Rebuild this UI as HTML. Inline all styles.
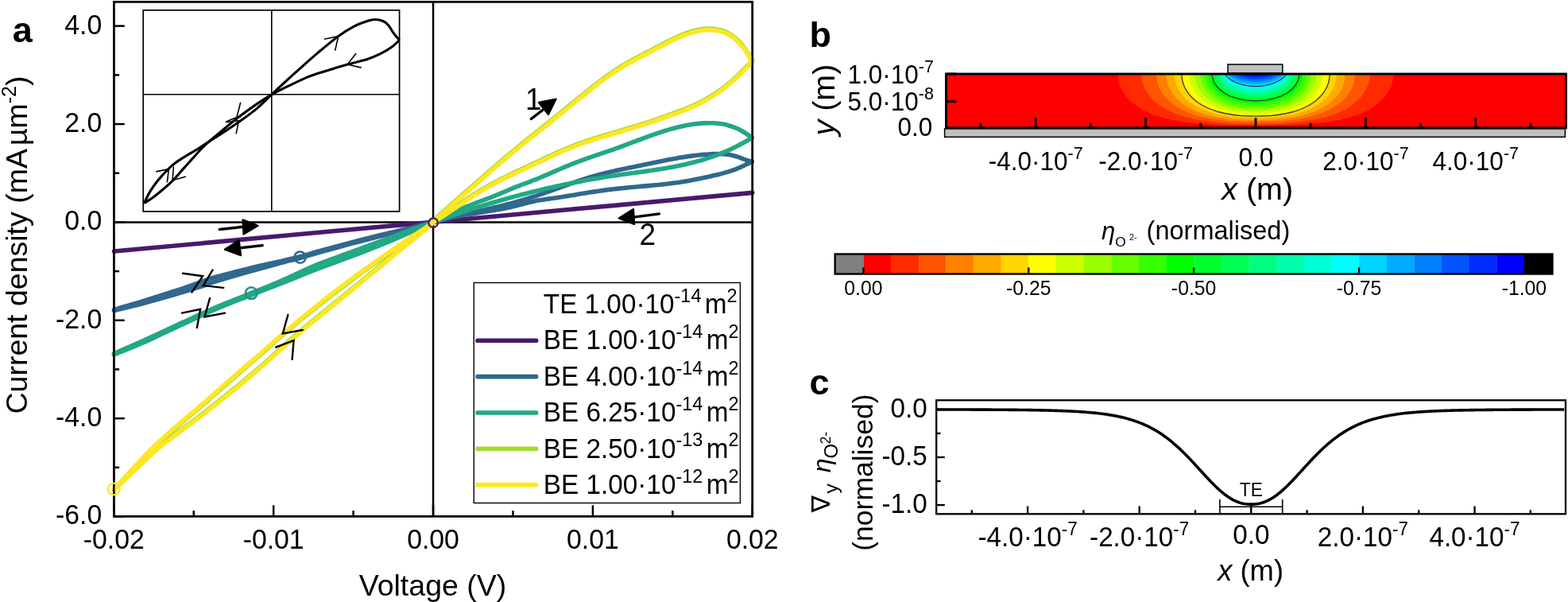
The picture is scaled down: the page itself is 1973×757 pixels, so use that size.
<!DOCTYPE html>
<html><head><meta charset="utf-8"><title>Figure</title>
<style>html,body{margin:0;padding:0;background:#fff;width:1973px;height:757px;overflow:hidden}svg{display:block}</style>
</head><body>
<svg width="1973" height="757" viewBox="0 0 1973 757" font-family="Liberation Sans, Arial, sans-serif">
<g fill="none" stroke="#000" stroke-width="2.5">
<path d="M143.3,2.2H946.8V649.3H143.3Z"/>
<path d="M545.05,2.2V649.3"/>
<path d="M143.3,279.4H946.8"/>
<path d="M143.3,649.48h13.5"/>
<path d="M143.3,587.8h6.8"/>
<path d="M143.3,526.12h13.5"/>
<path d="M143.3,464.44h6.8"/>
<path d="M143.3,402.76h13.5"/>
<path d="M143.3,341.08h6.8"/>
<path d="M143.3,279.4h13.5"/>
<path d="M143.3,217.72h6.8"/>
<path d="M143.3,156.04h13.5"/>
<path d="M143.3,94.36h6.8"/>
<path d="M143.3,32.68h13.5"/>
<path d="M143.3,649.3v-14"/>
<path d="M243.74,649.3v-7.2"/>
<path d="M344.17,649.3v-14"/>
<path d="M444.61,649.3v-7.2"/>
<path d="M545.05,649.3v-14"/>
<path d="M645.49,649.3v-7.2"/>
<path d="M745.92,649.3v-14"/>
<path d="M846.36,649.3v-7.2"/>
<path d="M946.8,649.3v-14"/>
</g>
<g transform="translate(128.2,42.68) scale(1,1.04) translate(-128.2,-42.68)"><text x="128.2" y="42.68" font-size="33.8" text-anchor="end">4.0</text></g>
<g transform="translate(128.2,166.04) scale(1,1.04) translate(-128.2,-166.04)"><text x="128.2" y="166.04" font-size="33.8" text-anchor="end">2.0</text></g>
<g transform="translate(128.2,289.4) scale(1,1.04) translate(-128.2,-289.4)"><text x="128.2" y="289.4" font-size="33.8" text-anchor="end">0.0</text></g>
<g transform="translate(128.2,412.76) scale(1,1.04) translate(-128.2,-412.76)"><text x="128.2" y="412.76" font-size="33.8" text-anchor="end">-2.0</text></g>
<g transform="translate(128.2,536.12) scale(1,1.04) translate(-128.2,-536.12)"><text x="128.2" y="536.12" font-size="33.8" text-anchor="end">-4.0</text></g>
<g transform="translate(128.2,659.48) scale(1,1.04) translate(-128.2,-659.48)"><text x="128.2" y="659.48" font-size="33.8" text-anchor="end">-6.0</text></g>
<g transform="translate(143.3,690.4) scale(1,1.04) translate(-143.3,-690.4)"><text x="143.3" y="690.4" font-size="33.8" text-anchor="middle">-0.02</text></g>
<g transform="translate(344.17,690.4) scale(1,1.04) translate(-344.17,-690.4)"><text x="344.17" y="690.4" font-size="33.8" text-anchor="middle">-0.01</text></g>
<g transform="translate(545.05,690.4) scale(1,1.04) translate(-545.05,-690.4)"><text x="545.05" y="690.4" font-size="33.8" text-anchor="middle">0.00</text></g>
<g transform="translate(745.92,690.4) scale(1,1.04) translate(-745.92,-690.4)"><text x="745.92" y="690.4" font-size="33.8" text-anchor="middle">0.01</text></g>
<g transform="translate(946.8,690.4) scale(1,1.04) translate(-946.8,-690.4)"><text x="946.8" y="690.4" font-size="33.8" text-anchor="middle">0.02</text></g>
<text x="0" y="0" font-size="37.5" text-anchor="middle" transform="translate(34,308) rotate(-90)">Current density (mA<tspan dx="4">µm</tspan><tspan font-size="25" dy="-14">-2</tspan><tspan dy="14">)</tspan></text>
<text x="544.5" y="749" font-size="37.5" text-anchor="middle">Voltage (V)</text>
<text x="15.7" y="53.1" font-size="45" font-weight="bold">a</text>
<g fill="none" stroke="#000">
<rect x="180.2" y="12.8" width="322.4" height="253.1" stroke-width="1.7"/>
<path d="M341.8,12.8V265.9M180.2,118.8H502.6" stroke-width="1.6"/>
<path d="M341.8,118.8 C345.33,115.52 356.72,104.85 363,99.1 C369.28,93.35 373.43,89.67 379.5,84.3 C385.57,78.93 391.68,73.37 399.4,66.9 C407.12,60.43 418.1,51.13 425.8,45.5 C433.5,39.87 439.55,36.27 445.6,33.1 C451.65,29.93 457.7,27.93 462.1,26.5 C466.5,25.07 468.7,24.5 472,24.5 C475.3,24.5 479.15,25.35 481.9,26.5 C484.65,27.65 486.3,28.9 488.5,31.4 C490.7,33.9 492.75,38.33 495.1,41.5 C497.45,44.67 501.35,48.92 502.6,50.4" stroke-width="3.1"/>
<path d="M502.6,50.4 C501.08,51.78 497.5,55.82 493.5,58.7 C489.5,61.58 483.83,65.08 478.6,67.7 C473.37,70.32 468.98,72.18 462.1,74.4 C455.22,76.62 445.55,78.67 437.3,81 C429.05,83.33 420.85,85.8 412.6,88.4 C404.35,91 396.07,93.3 387.8,96.6 C379.53,99.9 370.67,104.5 363,108.2 C355.33,111.9 345.33,117.03 341.8,118.8" stroke-width="3.1"/>
<path d="M341.5,119 C338.27,122.07 328.9,131.7 322.1,137.4 C315.3,143.1 308.05,148.02 300.7,153.2 C293.35,158.38 284.52,164.22 278,168.5 C271.48,172.78 266.37,175.82 261.6,178.9 C256.83,181.98 253.9,184.2 249.4,187 C244.9,189.8 239.32,192.78 234.6,195.7 C229.88,198.62 224.92,201.68 221.1,204.5 C217.28,207.32 215.52,208.78 211.7,212.6 C207.88,216.42 202.02,222.68 198.2,227.4 C194.38,232.12 191.6,236.22 188.8,240.9 C186,245.58 182.63,253.07 181.4,255.5" stroke-width="3.1"/>
<path d="M181.4,255.5 C183.08,254.42 187.57,251.88 191.5,249 C195.43,246.12 200.73,241.8 205,238.2 C209.27,234.6 213.07,231.45 217.1,227.4 C221.13,223.35 225.17,218.4 229.2,213.9 C233.23,209.4 237.25,204.88 241.3,200.4 C245.35,195.92 249.67,190.93 253.5,187 C257.33,183.07 260.22,180.38 264.3,176.8 C268.38,173.22 272.33,170.17 278,165.5 C283.67,160.83 291.22,154.28 298.3,148.8 C305.38,143.32 313.3,137.57 320.5,132.6 C327.7,127.63 338,121.27 341.5,119" stroke-width="3.1"/>
<path d="M407.9,49.3 L425.8,45.5 L421.6,63.6" stroke-width="1.6"/>
<path d="M448.1,66.9 L437.3,81 L454.7,85.1" stroke-width="1.6"/>
<path d="M196.2,215.9 L212.4,212.6 L210.3,229.4" stroke-width="1.6"/>
<path d="M218.4,209.2 L217.1,226.7 L233.9,222" stroke-width="1.6"/>
<path d="M284,153.8 L300.5,151.8 L297.1,168.3" stroke-width="1.6"/>
<path d="M302.7,128.7 L297.9,147.5 L284.5,153" stroke-width="1.6"/>
</g>
<path d="M143.5,316 C210.42,309.87 411.12,291.47 545,279.2 C678.88,266.93 879.83,248.53 946.8,242.4" fill="none" stroke="#481a6c" stroke-width="5.6" stroke-linejoin="round" stroke-linecap="round"/>
<path d="M545,279.4 C546.01,279.13 549.05,278.31 551.08,277.77 C553.11,277.24 555.13,276.72 557.16,276.2 C559.18,275.69 561.21,275.18 563.24,274.68 C565.26,274.18 567.29,273.69 569.32,273.2 C571.34,272.71 573.37,272.23 575.39,271.75 C577.42,271.27 579.45,270.8 581.47,270.33 C583.5,269.86 585.53,269.39 587.55,268.92 C589.58,268.46 591.6,267.99 593.63,267.53 C595.66,267.06 597.68,266.6 599.71,266.14 C601.74,265.67 603.76,265.21 605.79,264.74 C607.81,264.28 609.84,263.81 611.87,263.34 C613.89,262.86 615.92,262.39 617.95,261.91 C619.97,261.43 622,260.95 624.02,260.46 C626.05,259.97 628.08,259.47 630.1,258.97 C632.13,258.47 634.16,257.96 636.18,257.44 C638.21,256.92 640.23,256.4 642.26,255.86 C644.29,255.33 646.31,254.78 648.34,254.23 C650.37,253.67 652.39,253.1 654.42,252.53 C656.44,251.95 658.47,251.36 660.5,250.75 C662.52,250.15 664.55,249.53 666.58,248.9 C668.6,248.27 670.63,247.62 672.65,246.96 C674.68,246.3 676.71,245.62 678.73,244.94 C680.76,244.25 682.79,243.55 684.81,242.85 C686.84,242.14 688.86,241.43 690.89,240.71 C692.92,239.99 694.94,239.26 696.97,238.54 C699,237.81 701.02,237.07 703.05,236.34 C705.07,235.61 707.1,234.88 709.13,234.15 C711.15,233.42 713.18,232.7 715.21,231.98 C717.23,231.26 719.26,230.54 721.28,229.83 C723.31,229.13 725.34,228.43 727.36,227.74 C729.39,227.06 731.42,226.38 733.44,225.72 C735.47,225.06 737.49,224.41 739.52,223.77 C741.55,223.14 743.57,222.53 745.6,221.93 C747.63,221.34 749.65,220.76 751.68,220.21 C753.71,219.65 755.73,219.12 757.76,218.6 C759.78,218.09 761.81,217.59 763.84,217.1 C765.86,216.62 767.89,216.15 769.92,215.69 C771.94,215.23 773.97,214.79 775.99,214.35 C778.02,213.91 780.05,213.48 782.07,213.06 C784.1,212.63 786.13,212.21 788.15,211.8 C790.18,211.38 792.2,210.96 794.23,210.55 C796.26,210.13 798.28,209.72 800.31,209.3 C802.34,208.87 804.36,208.45 806.39,208.02 C808.41,207.6 810.44,207.17 812.47,206.74 C814.49,206.32 816.52,205.89 818.55,205.46 C820.57,205.04 822.6,204.61 824.62,204.19 C826.65,203.77 828.68,203.35 830.7,202.94 C832.73,202.53 834.76,202.12 836.78,201.72 C838.81,201.32 840.83,200.93 842.86,200.54 C844.89,200.16 846.91,199.79 848.94,199.42 C850.97,199.06 852.99,198.7 855.02,198.36 C857.04,198.02 859.07,197.69 861.1,197.38 C863.12,197.07 865.15,196.77 867.18,196.48 C869.2,196.2 871.23,195.93 873.25,195.68 C875.28,195.43 877.31,195.2 879.33,194.99 C881.36,194.78 883.39,194.58 885.41,194.41 C887.44,194.24 889.46,194.09 891.49,193.97 C893.52,193.84 895.54,193.73 897.57,193.66 C899.6,193.59 901.62,193.54 903.65,193.55 C905.67,193.56 907.7,193.61 909.73,193.73 C911.75,193.86 913.78,194.04 915.81,194.32 C917.83,194.6 919.86,194.94 921.88,195.41 C923.91,195.87 925.94,196.44 927.96,197.1 C929.99,197.77 932.02,198.64 934.04,199.41 C936.07,200.18 938.09,201.09 940.12,201.74 C942.15,202.39 945.19,203.04 946.2,203.3" fill="none" stroke="#31688e" stroke-width="5.6" stroke-linejoin="round" stroke-linecap="round"/>
<path d="M946.2,203.3 C945.19,203.81 942.15,205.35 940.12,206.33 C938.09,207.32 936.07,208.3 934.04,209.21 C932.02,210.13 929.99,211.01 927.96,211.83 C925.94,212.64 923.91,213.4 921.88,214.11 C919.86,214.82 917.83,215.48 915.81,216.1 C913.78,216.72 911.75,217.29 909.73,217.85 C907.7,218.4 905.67,218.91 903.65,219.41 C901.62,219.91 899.6,220.38 897.57,220.85 C895.54,221.32 893.52,221.77 891.49,222.22 C889.46,222.66 887.44,223.1 885.41,223.53 C883.39,223.96 881.36,224.39 879.33,224.8 C877.31,225.21 875.28,225.61 873.25,226 C871.23,226.39 869.2,226.76 867.18,227.13 C865.15,227.49 863.12,227.84 861.1,228.18 C859.07,228.52 857.04,228.84 855.02,229.15 C852.99,229.46 850.97,229.76 848.94,230.03 C846.91,230.31 844.89,230.58 842.86,230.83 C840.83,231.08 838.81,231.31 836.78,231.54 C834.76,231.76 832.73,231.98 830.7,232.18 C828.68,232.39 826.65,232.59 824.62,232.78 C822.6,232.97 820.57,233.16 818.55,233.34 C816.52,233.53 814.49,233.7 812.47,233.88 C810.44,234.06 808.41,234.24 806.39,234.41 C804.36,234.59 802.34,234.77 800.31,234.95 C798.28,235.14 796.26,235.32 794.23,235.51 C792.2,235.7 790.18,235.9 788.15,236.1 C786.13,236.3 784.1,236.51 782.07,236.72 C780.05,236.93 778.02,237.15 775.99,237.37 C773.97,237.6 771.94,237.83 769.92,238.07 C767.89,238.31 765.86,238.56 763.84,238.81 C761.81,239.07 759.78,239.34 757.76,239.61 C755.73,239.88 753.71,240.17 751.68,240.46 C749.65,240.76 747.63,241.06 745.6,241.37 C743.57,241.69 741.55,242.01 739.52,242.34 C737.49,242.66 735.47,243 733.44,243.34 C731.42,243.67 729.39,244.01 727.36,244.35 C725.34,244.69 723.31,245.04 721.28,245.37 C719.26,245.71 717.23,246.05 715.21,246.38 C713.18,246.71 711.15,247.04 709.13,247.36 C707.1,247.67 705.07,247.99 703.05,248.29 C701.02,248.59 699,248.87 696.97,249.16 C694.94,249.44 692.92,249.71 690.89,249.99 C688.86,250.28 686.84,250.55 684.81,250.86 C682.79,251.17 680.76,251.48 678.73,251.83 C676.71,252.18 674.68,252.55 672.65,252.96 C670.63,253.38 668.6,253.84 666.58,254.33 C664.55,254.82 662.52,255.36 660.5,255.89 C658.47,256.42 656.44,256.98 654.42,257.52 C652.39,258.05 650.37,258.58 648.34,259.08 C646.31,259.58 644.29,260.05 642.26,260.5 C640.23,260.96 638.21,261.38 636.18,261.8 C634.16,262.21 632.13,262.6 630.1,262.98 C628.08,263.36 626.05,263.73 624.02,264.08 C622,264.44 619.97,264.77 617.95,265.11 C615.92,265.44 613.89,265.77 611.87,266.09 C609.84,266.41 607.81,266.72 605.79,267.04 C603.76,267.36 601.74,267.67 599.71,267.98 C597.68,268.3 595.66,268.61 593.63,268.94 C591.6,269.26 589.58,269.58 587.55,269.92 C585.53,270.26 583.5,270.6 581.47,270.96 C579.45,271.32 577.42,271.68 575.39,272.07 C573.37,272.45 571.34,272.85 569.32,273.27 C567.29,273.69 565.26,274.12 563.24,274.58 C561.21,275.04 559.18,275.52 557.16,276.03 C555.13,276.54 553.11,277.07 551.08,277.63 C549.05,278.19 546.01,279.1 545,279.4" fill="none" stroke="#31688e" stroke-width="5.6" stroke-linejoin="round" stroke-linecap="round"/>
<path d="M143.5,389.35 C149.58,387.57 167.25,382.54 180,378.65 C192.75,374.76 208.33,369.84 220,366 C231.67,362.16 241.67,358.47 250,355.6 C258.33,352.73 260,351.68 270,348.8 C280,345.93 296.67,341.61 310,338.35 C323.33,335.09 338.73,331.85 350,329.25 C361.27,326.65 369.27,324.94 377.6,322.77 C385.93,320.6 389.6,319.11 400,316.23 C410.4,313.35 426.67,308.99 440,305.49 C453.33,301.99 467.5,298.35 480,295.25 C492.5,292.15 504.17,289.54 515,286.9 C525.83,284.26 540,280.65 545,279.4" fill="none" stroke="#31688e" stroke-width="5.6" stroke-linejoin="round" stroke-linecap="round"/>
<path d="M143.5,390.65 C149.58,389.13 167.25,384.93 180,381.55 C192.75,378.18 208.33,373.79 220,370.4 C231.67,367.01 241.67,363.87 250,361.2 C258.33,358.53 260,357.49 270,354.4 C280,351.31 296.67,346.46 310,342.65 C323.33,338.84 338.73,334.59 350,331.55 C361.27,328.51 369.27,326.72 377.6,324.43 C385.93,322.13 389.6,320.69 400,317.77 C410.4,314.85 426.67,310.45 440,306.91 C453.33,303.37 467.5,299.78 480,296.55 C492.5,293.31 504.17,290.36 515,287.5 C525.83,284.64 540,280.75 545,279.4" fill="none" stroke="#31688e" stroke-width="5.6" stroke-linejoin="round" stroke-linecap="round"/>
<path d="M545,279.4 C546.01,278.84 549.05,277.12 551.08,276.03 C553.11,274.95 555.13,273.91 557.16,272.89 C559.18,271.88 561.21,270.9 563.24,269.95 C565.26,269 567.29,268.08 569.32,267.18 C571.34,266.28 573.37,265.4 575.39,264.55 C577.42,263.69 579.45,262.86 581.47,262.04 C583.5,261.22 585.53,260.42 587.55,259.62 C589.58,258.83 591.6,258.05 593.63,257.28 C595.66,256.5 597.68,255.74 599.71,254.97 C601.74,254.2 603.76,253.44 605.79,252.68 C607.81,251.91 609.84,251.15 611.87,250.37 C613.89,249.6 615.92,248.82 617.95,248.03 C619.97,247.24 622,246.45 624.02,245.63 C626.05,244.82 628.08,243.99 630.1,243.14 C632.13,242.29 634.16,241.42 636.18,240.56 C638.21,239.69 640.23,238.81 642.26,237.95 C644.29,237.09 646.31,236.23 648.34,235.42 C650.37,234.6 652.39,233.81 654.42,233.03 C656.44,232.26 658.47,231.52 660.5,230.77 C662.52,230.02 664.55,229.28 666.58,228.52 C668.6,227.76 670.63,226.99 672.65,226.19 C674.68,225.39 676.71,224.57 678.73,223.74 C680.76,222.9 682.79,222.05 684.81,221.19 C686.84,220.33 688.86,219.45 690.89,218.58 C692.92,217.7 694.94,216.81 696.97,215.93 C699,215.05 701.02,214.17 703.05,213.29 C705.07,212.41 707.1,211.54 709.13,210.68 C711.15,209.82 713.18,208.97 715.21,208.13 C717.23,207.3 719.26,206.48 721.28,205.68 C723.31,204.88 725.34,204.11 727.36,203.34 C729.39,202.58 731.42,201.83 733.44,201.1 C735.47,200.36 737.49,199.64 739.52,198.93 C741.55,198.22 743.57,197.51 745.6,196.82 C747.63,196.12 749.65,195.43 751.68,194.74 C753.71,194.05 755.73,193.36 757.76,192.67 C759.78,191.98 761.81,191.29 763.84,190.6 C765.86,189.9 767.89,189.2 769.92,188.5 C771.94,187.79 773.97,187.07 775.99,186.35 C778.02,185.62 780.05,184.88 782.07,184.14 C784.1,183.4 786.13,182.64 788.15,181.89 C790.18,181.13 792.2,180.37 794.23,179.61 C796.26,178.85 798.28,178.09 800.31,177.33 C802.34,176.57 804.36,175.81 806.39,175.05 C808.41,174.3 810.44,173.55 812.47,172.81 C814.49,172.07 816.52,171.34 818.55,170.62 C820.57,169.9 822.6,169.18 824.62,168.49 C826.65,167.79 828.68,167.11 830.7,166.44 C832.73,165.78 834.76,165.13 836.78,164.5 C838.81,163.88 840.83,163.27 842.86,162.68 C844.89,162.1 846.91,161.54 848.94,161 C850.97,160.47 852.99,159.96 855.02,159.48 C857.04,159.01 859.07,158.55 861.1,158.14 C863.12,157.72 865.15,157.34 867.18,156.99 C869.2,156.64 871.23,156.33 873.25,156.06 C875.28,155.78 877.31,155.55 879.33,155.35 C881.36,155.16 883.39,155.01 885.41,154.9 C887.44,154.79 889.46,154.73 891.49,154.72 C893.52,154.7 895.54,154.73 897.57,154.82 C899.6,154.91 901.62,155.04 903.65,155.26 C905.67,155.47 907.7,155.74 909.73,156.1 C911.75,156.46 913.78,156.89 915.81,157.42 C917.83,157.96 919.86,158.57 921.88,159.3 C923.91,160.03 925.94,160.86 927.96,161.81 C929.99,162.75 932.02,163.83 934.04,165 C936.07,166.17 938.09,167.46 940.12,168.83 C942.15,170.19 945.19,172.47 946.2,173.2" fill="none" stroke="#22a884" stroke-width="5.6" stroke-linejoin="round" stroke-linecap="round"/>
<path d="M946.2,173.2 C945.19,173.81 942.15,175.68 940.12,176.86 C938.09,178.04 936.07,179.19 934.04,180.29 C932.02,181.4 929.99,182.47 927.96,183.5 C925.94,184.54 923.91,185.54 921.88,186.5 C919.86,187.47 917.83,188.4 915.81,189.29 C913.78,190.19 911.75,191.06 909.73,191.9 C907.7,192.73 905.67,193.54 903.65,194.31 C901.62,195.09 899.6,195.84 897.57,196.56 C895.54,197.28 893.52,197.97 891.49,198.64 C889.46,199.31 887.44,199.95 885.41,200.57 C883.39,201.19 881.36,201.78 879.33,202.35 C877.31,202.92 875.28,203.47 873.25,204 C871.23,204.53 869.2,205.04 867.18,205.53 C865.15,206.02 863.12,206.49 861.1,206.95 C859.07,207.4 857.04,207.83 855.02,208.26 C852.99,208.68 850.97,209.08 848.94,209.47 C846.91,209.86 844.89,210.24 842.86,210.61 C840.83,210.97 838.81,211.32 836.78,211.67 C834.76,212.01 832.73,212.34 830.7,212.66 C828.68,212.98 826.65,213.3 824.62,213.6 C822.6,213.91 820.57,214.21 818.55,214.5 C816.52,214.79 814.49,215.08 812.47,215.36 C810.44,215.65 808.41,215.93 806.39,216.2 C804.36,216.48 802.34,216.75 800.31,217.03 C798.28,217.3 796.26,217.57 794.23,217.85 C792.2,218.12 790.18,218.4 788.15,218.68 C786.13,218.95 784.1,219.23 782.07,219.52 C780.05,219.8 778.02,220.09 775.99,220.39 C773.97,220.68 771.94,220.98 769.92,221.29 C767.89,221.59 765.86,221.91 763.84,222.23 C761.81,222.55 759.78,222.87 757.76,223.2 C755.73,223.53 753.71,223.87 751.68,224.22 C749.65,224.56 747.63,224.91 745.6,225.26 C743.57,225.62 741.55,225.98 739.52,226.35 C737.49,226.72 735.47,227.09 733.44,227.47 C731.42,227.85 729.39,228.24 727.36,228.63 C725.34,229.02 723.31,229.42 721.28,229.82 C719.26,230.23 717.23,230.64 715.21,231.05 C713.18,231.47 711.15,231.89 709.13,232.32 C707.1,232.75 705.07,233.18 703.05,233.62 C701.02,234.06 699,234.5 696.97,234.95 C694.94,235.41 692.92,235.86 690.89,236.32 C688.86,236.79 686.84,237.26 684.81,237.73 C682.79,238.21 680.76,238.69 678.73,239.17 C676.71,239.66 674.68,240.15 672.65,240.65 C670.63,241.15 668.6,241.65 666.58,242.16 C664.55,242.67 662.52,243.18 660.5,243.7 C658.47,244.22 656.44,244.75 654.42,245.28 C652.39,245.81 650.37,246.35 648.34,246.89 C646.31,247.44 644.29,247.99 642.26,248.54 C640.23,249.1 638.21,249.66 636.18,250.22 C634.16,250.79 632.13,251.36 630.1,251.94 C628.08,252.51 626.05,253.1 624.02,253.69 C622,254.27 619.97,254.87 617.95,255.47 C615.92,256.07 613.89,256.67 611.87,257.28 C609.84,257.89 607.81,258.51 605.79,259.13 C603.76,259.75 601.74,260.38 599.71,261.01 C597.68,261.64 595.66,262.28 593.63,262.92 C591.6,263.57 589.58,264.22 587.55,264.87 C585.53,265.53 583.5,266.19 581.47,266.85 C579.45,267.52 577.42,268.19 575.39,268.86 C573.37,269.54 571.34,270.22 569.32,270.91 C567.29,271.59 565.26,272.28 563.24,272.98 C561.21,273.68 559.18,274.38 557.16,275.09 C555.13,275.8 553.11,276.51 551.08,277.23 C549.05,277.95 546.01,279.04 545,279.4" fill="none" stroke="#22a884" stroke-width="5.6" stroke-linejoin="round" stroke-linecap="round"/>
<path d="M143.4,444.55 C149.5,441.88 165.57,435.08 180,428.55 C194.43,422.02 215,412.29 230,405.4 C245,398.51 256.67,392.92 270,387.2 C283.33,381.48 296.67,376.48 310,371.1 C323.33,365.72 335,361.34 350,354.9 C365,348.46 385,338.64 400,332.45 C415,326.26 426.67,322.68 440,317.75 C453.33,312.82 467.5,307.49 480,302.85 C492.5,298.21 504.17,293.82 515,289.91 C525.83,286 540,281.15 545,279.4" fill="none" stroke="#22a884" stroke-width="5.6" stroke-linejoin="round" stroke-linecap="round"/>
<path d="M143.4,445.85 C149.5,443.38 165.57,437.43 180,431.05 C194.43,424.68 215,414.54 230,407.6 C245,400.66 256.67,395.12 270,389.4 C283.33,383.68 296.67,378.55 310,373.3 C323.33,368.05 335,363.79 350,357.9 C365,352.01 385,343.72 400,337.95 C415,332.18 426.67,328.32 440,323.25 C453.33,318.18 467.5,312.64 480,307.55 C492.5,302.46 504.17,297.38 515,292.69 C525.83,288 540,281.61 545,279.4" fill="none" stroke="#22a884" stroke-width="5.6" stroke-linejoin="round" stroke-linecap="round"/>
<path d="M545,279.2 C546.01,278.04 549.05,274.3 551.08,272.22 C553.11,270.15 555.13,268.55 557.16,266.72 C559.19,264.9 561.21,263.09 563.24,261.29 C565.27,259.48 567.29,257.69 569.32,255.9 C571.35,254.11 573.37,252.33 575.4,250.55 C577.43,248.78 579.46,247 581.48,245.23 C583.51,243.46 585.54,241.7 587.56,239.93 C589.59,238.16 591.62,236.4 593.64,234.63 C595.67,232.87 597.7,231.1 599.72,229.33 C601.75,227.56 603.78,225.78 605.8,224 C607.83,222.23 609.86,220.44 611.88,218.67 C613.91,216.89 615.94,215.11 617.96,213.34 C619.99,211.57 622.02,209.81 624.04,208.05 C626.07,206.3 628.1,204.55 630.12,202.82 C632.15,201.09 634.18,199.37 636.2,197.67 C638.23,195.96 640.26,194.27 642.28,192.59 C644.31,190.9 646.34,189.23 648.37,187.57 C650.39,185.9 652.42,184.25 654.45,182.6 C656.47,180.96 658.5,179.32 660.53,177.68 C662.55,176.05 664.58,174.42 666.61,172.8 C668.63,171.17 670.66,169.55 672.69,167.93 C674.71,166.31 676.74,164.7 678.77,163.08 C680.79,161.47 682.82,159.86 684.85,158.24 C686.87,156.62 688.9,155.01 690.93,153.39 C692.95,151.77 694.98,150.15 697.01,148.53 C699.03,146.9 701.06,145.27 703.09,143.64 C705.11,142 707.14,140.36 709.17,138.72 C711.19,137.07 713.22,135.41 715.25,133.75 C717.28,132.09 719.3,130.43 721.33,128.77 C723.36,127.1 725.38,125.44 727.41,123.78 C729.44,122.12 731.46,120.47 733.49,118.82 C735.52,117.18 737.54,115.54 739.57,113.92 C741.6,112.3 743.62,110.68 745.65,109.09 C747.68,107.5 749.7,105.92 751.73,104.37 C753.76,102.81 755.78,101.28 757.81,99.77 C759.84,98.26 761.86,96.78 763.89,95.33 C765.92,93.88 767.94,92.45 769.97,91.06 C772,89.68 774.02,88.32 776.05,87.01 C778.08,85.69 780.11,84.41 782.13,83.18 C784.16,81.94 786.19,80.74 788.21,79.57 C790.24,78.4 792.27,77.27 794.29,76.16 C796.32,75.04 798.35,73.95 800.37,72.87 C802.4,71.8 804.43,70.74 806.45,69.68 C808.48,68.63 810.51,67.59 812.53,66.54 C814.56,65.49 816.59,64.44 818.61,63.39 C820.64,62.33 822.67,61.27 824.69,60.2 C826.72,59.13 828.75,58.06 830.77,56.99 C832.8,55.93 834.83,54.87 836.85,53.83 C838.88,52.79 840.91,51.75 842.93,50.75 C844.96,49.75 846.99,48.77 849.02,47.82 C851.04,46.88 853.07,45.96 855.1,45.1 C857.12,44.23 859.15,43.4 861.18,42.63 C863.2,41.86 865.23,41.13 867.26,40.47 C869.28,39.81 871.31,39.2 873.34,38.68 C875.36,38.15 877.39,37.68 879.42,37.3 C881.44,36.93 883.47,36.62 885.5,36.41 C887.52,36.2 889.55,36.06 891.58,36.04 C893.6,36.01 895.63,36.08 897.66,36.26 C899.68,36.44 901.71,36.7 903.74,37.12 C905.76,37.54 907.79,38.05 909.82,38.76 C911.84,39.47 913.87,40.31 915.9,41.38 C917.93,42.45 919.95,43.68 921.98,45.17 C924.01,46.66 926.03,48.34 928.06,50.31 C930.09,52.29 932.11,54.49 934.14,57.02 C936.17,59.55 938.08,62.23 940.22,65.48 C942.36,68.73 945.87,74.66 947,76.5" fill="none" stroke="#a5db36" stroke-width="5.6" stroke-linejoin="round" stroke-linecap="round"/>
<path d="M947,76.5 C945.87,77.54 942.36,80.64 940.22,82.73 C938.08,84.81 936.17,86.98 934.14,89.02 C932.11,91.06 930.09,93.05 928.06,94.97 C926.03,96.9 924.01,98.76 921.98,100.57 C919.95,102.37 917.93,104.11 915.9,105.79 C913.87,107.46 911.84,109.08 909.82,110.62 C907.79,112.17 905.76,113.65 903.74,115.06 C901.71,116.48 899.68,117.82 897.66,119.11 C895.63,120.4 893.6,121.62 891.58,122.79 C889.55,123.97 887.52,125.08 885.5,126.16 C883.47,127.23 881.44,128.26 879.42,129.25 C877.39,130.23 875.36,131.18 873.34,132.09 C871.31,133.01 869.28,133.88 867.26,134.74 C865.23,135.6 863.2,136.42 861.18,137.24 C859.15,138.05 857.12,138.84 855.1,139.62 C853.07,140.4 851.04,141.17 849.02,141.92 C846.99,142.68 844.96,143.43 842.93,144.17 C840.91,144.9 838.88,145.63 836.85,146.35 C834.83,147.06 832.8,147.77 830.77,148.47 C828.75,149.17 826.72,149.86 824.69,150.54 C822.67,151.22 820.64,151.89 818.61,152.56 C816.59,153.22 814.56,153.88 812.53,154.53 C810.51,155.18 808.48,155.82 806.45,156.46 C804.43,157.09 802.4,157.72 800.37,158.35 C798.35,158.97 796.32,159.59 794.29,160.2 C792.27,160.81 790.24,161.42 788.21,162.02 C786.19,162.62 784.16,163.22 782.13,163.82 C780.11,164.41 778.08,165 776.05,165.59 C774.02,166.18 772,166.77 769.97,167.36 C767.94,167.96 765.92,168.55 763.89,169.15 C761.86,169.75 759.84,170.35 757.81,170.96 C755.78,171.57 753.76,172.19 751.73,172.81 C749.7,173.44 747.68,174.08 745.65,174.73 C743.62,175.38 741.6,176.04 739.57,176.72 C737.54,177.4 735.52,178.09 733.49,178.8 C731.46,179.51 729.44,180.23 727.41,180.98 C725.38,181.73 723.36,182.5 721.33,183.29 C719.3,184.08 717.28,184.9 715.25,185.73 C713.22,186.56 711.19,187.42 709.17,188.29 C707.14,189.17 705.11,190.06 703.09,190.96 C701.06,191.86 699.03,192.78 697.01,193.71 C694.98,194.63 692.95,195.57 690.93,196.51 C688.9,197.46 686.87,198.41 684.85,199.36 C682.82,200.31 680.79,201.27 678.77,202.22 C676.74,203.17 674.71,204.13 672.69,205.08 C670.66,206.02 668.63,206.97 666.61,207.91 C664.58,208.85 662.55,209.78 660.53,210.72 C658.5,211.65 656.47,212.59 654.45,213.53 C652.42,214.47 650.39,215.41 648.37,216.36 C646.34,217.31 644.31,218.27 642.28,219.24 C640.26,220.21 638.23,221.19 636.2,222.18 C634.18,223.18 632.15,224.19 630.12,225.22 C628.1,226.25 626.07,227.3 624.04,228.37 C622.02,229.44 619.99,230.53 617.96,231.65 C615.94,232.77 613.91,233.91 611.88,235.07 C609.86,236.24 607.83,237.43 605.8,238.65 C603.78,239.87 601.75,241.12 599.72,242.39 C597.7,243.66 595.67,244.97 593.64,246.29 C591.62,247.6 589.59,248.95 587.56,250.29 C585.54,251.64 583.51,253.01 581.48,254.37 C579.46,255.73 577.43,257.11 575.4,258.48 C573.37,259.84 571.35,261.21 569.32,262.57 C567.29,263.93 565.27,265.28 563.24,266.61 C561.21,267.94 559.19,269.26 557.16,270.56 C555.13,271.85 553.11,272.93 551.08,274.37 C549.05,275.81 546.01,278.39 545,279.2" fill="none" stroke="#a5db36" stroke-width="5.6" stroke-linejoin="round" stroke-linecap="round"/>
<path d="M143.5,615.7 C147.92,611 160.58,597.3 170,587.5 C179.42,577.7 185,570.67 200,556.9 C215,543.12 240,522.25 260,504.85 C280,487.45 300,469.82 320,452.5 C340,435.18 360,417.33 380,400.9 C400,384.47 420,368.82 440,353.9 C460,338.98 483.97,322.53 500,311.4 C516.03,300.27 528.7,292.43 536.2,287.1 C543.7,281.77 543.53,280.68 545,279.4" fill="none" stroke="#a5db36" stroke-width="5.6" stroke-linejoin="round" stroke-linecap="round"/>
<path d="M143.5,615.7 C147.92,611.4 160.58,598.87 170,589.9 C179.42,580.93 185,574.16 200,561.9 C215,549.64 240,532.05 260,516.35 C280,500.65 300,484.68 320,467.7 C340,450.73 360,431.5 380,414.5 C400,397.5 420,382.12 440,365.7 C460,349.28 483.97,329.1 500,316 C516.03,302.9 528.7,293.2 536.2,287.1 C543.7,281 543.53,280.68 545,279.4" fill="none" stroke="#a5db36" stroke-width="5.6" stroke-linejoin="round" stroke-linecap="round"/>
<path d="M545,279.4 C546.01,278.47 549.05,275.67 551.08,273.82 C553.11,271.98 555.13,270.15 557.16,268.32 C559.19,266.5 561.21,264.69 563.24,262.89 C565.27,261.08 567.29,259.29 569.32,257.5 C571.35,255.71 573.37,253.93 575.4,252.15 C577.43,250.38 579.46,248.6 581.48,246.83 C583.51,245.06 585.54,243.3 587.56,241.53 C589.59,239.76 591.62,238 593.64,236.23 C595.67,234.47 597.7,232.7 599.72,230.93 C601.75,229.16 603.78,227.38 605.8,225.6 C607.83,223.83 609.86,222.04 611.88,220.27 C613.91,218.49 615.94,216.71 617.96,214.94 C619.99,213.17 622.02,211.41 624.04,209.65 C626.07,207.9 628.1,206.15 630.12,204.42 C632.15,202.69 634.18,200.97 636.2,199.27 C638.23,197.56 640.26,195.87 642.28,194.19 C644.31,192.5 646.34,190.83 648.37,189.17 C650.39,187.5 652.42,185.85 654.45,184.2 C656.47,182.56 658.5,180.92 660.53,179.28 C662.55,177.65 664.58,176.02 666.61,174.4 C668.63,172.77 670.66,171.15 672.69,169.53 C674.71,167.91 676.74,166.3 678.77,164.68 C680.79,163.07 682.82,161.46 684.85,159.84 C686.87,158.22 688.9,156.61 690.93,154.99 C692.95,153.37 694.98,151.75 697.01,150.13 C699.03,148.5 701.06,146.87 703.09,145.24 C705.11,143.6 707.14,141.96 709.17,140.32 C711.19,138.67 713.22,137.01 715.25,135.35 C717.28,133.69 719.3,132.03 721.33,130.37 C723.36,128.7 725.38,127.04 727.41,125.38 C729.44,123.72 731.46,122.07 733.49,120.42 C735.52,118.78 737.54,117.14 739.57,115.52 C741.6,113.9 743.62,112.28 745.65,110.69 C747.68,109.1 749.7,107.52 751.73,105.97 C753.76,104.41 755.78,102.88 757.81,101.37 C759.84,99.86 761.86,98.38 763.89,96.93 C765.92,95.48 767.94,94.05 769.97,92.66 C772,91.28 774.02,89.92 776.05,88.61 C778.08,87.29 780.11,86.01 782.13,84.78 C784.16,83.54 786.19,82.34 788.21,81.17 C790.24,80 792.27,78.87 794.29,77.76 C796.32,76.64 798.35,75.55 800.37,74.47 C802.4,73.4 804.43,72.34 806.45,71.28 C808.48,70.23 810.51,69.19 812.53,68.14 C814.56,67.09 816.59,66.04 818.61,64.99 C820.64,63.93 822.67,62.87 824.69,61.8 C826.72,60.73 828.75,59.66 830.77,58.59 C832.8,57.53 834.83,56.47 836.85,55.43 C838.88,54.39 840.91,53.35 842.93,52.35 C844.96,51.35 846.99,50.37 849.02,49.42 C851.04,48.48 853.07,47.56 855.1,46.7 C857.12,45.83 859.15,45 861.18,44.23 C863.2,43.46 865.23,42.73 867.26,42.07 C869.28,41.41 871.31,40.8 873.34,40.28 C875.36,39.75 877.39,39.28 879.42,38.9 C881.44,38.53 883.47,38.22 885.5,38.01 C887.52,37.8 889.55,37.66 891.58,37.64 C893.6,37.61 895.63,37.68 897.66,37.86 C899.68,38.04 901.71,38.3 903.74,38.72 C905.76,39.14 907.79,39.65 909.82,40.36 C911.84,41.07 913.87,41.91 915.9,42.98 C917.93,44.05 919.95,45.28 921.98,46.77 C924.01,48.26 926.03,49.94 928.06,51.91 C930.09,53.89 932.11,56.09 934.14,58.62 C936.17,61.15 938.19,63.93 940.22,67.08 C942.25,70.23 945.29,75.76 946.3,77.5" fill="none" stroke="#fde725" stroke-width="5.6" stroke-linejoin="round" stroke-linecap="round"/>
<path d="M946.3,77.5 C945.29,78.6 942.25,81.97 940.22,84.13 C938.19,86.28 936.17,88.38 934.14,90.42 C932.11,92.46 930.09,94.45 928.06,96.37 C926.03,98.3 924.01,100.16 921.98,101.97 C919.95,103.77 917.93,105.51 915.9,107.19 C913.87,108.86 911.84,110.48 909.82,112.02 C907.79,113.57 905.76,115.05 903.74,116.46 C901.71,117.88 899.68,119.22 897.66,120.51 C895.63,121.8 893.6,123.02 891.58,124.19 C889.55,125.37 887.52,126.48 885.5,127.56 C883.47,128.63 881.44,129.66 879.42,130.65 C877.39,131.63 875.36,132.58 873.34,133.49 C871.31,134.41 869.28,135.28 867.26,136.14 C865.23,137 863.2,137.82 861.18,138.64 C859.15,139.45 857.12,140.24 855.1,141.02 C853.07,141.8 851.04,142.57 849.02,143.32 C846.99,144.08 844.96,144.83 842.93,145.57 C840.91,146.3 838.88,147.03 836.85,147.75 C834.83,148.46 832.8,149.17 830.77,149.87 C828.75,150.57 826.72,151.26 824.69,151.94 C822.67,152.62 820.64,153.29 818.61,153.96 C816.59,154.62 814.56,155.28 812.53,155.93 C810.51,156.58 808.48,157.22 806.45,157.86 C804.43,158.49 802.4,159.12 800.37,159.75 C798.35,160.37 796.32,160.99 794.29,161.6 C792.27,162.21 790.24,162.82 788.21,163.42 C786.19,164.02 784.16,164.62 782.13,165.22 C780.11,165.81 778.08,166.4 776.05,166.99 C774.02,167.58 772,168.17 769.97,168.76 C767.94,169.36 765.92,169.95 763.89,170.55 C761.86,171.15 759.84,171.75 757.81,172.36 C755.78,172.97 753.76,173.59 751.73,174.21 C749.7,174.84 747.68,175.48 745.65,176.13 C743.62,176.78 741.6,177.44 739.57,178.12 C737.54,178.8 735.52,179.49 733.49,180.2 C731.46,180.91 729.44,181.63 727.41,182.38 C725.38,183.13 723.36,183.9 721.33,184.69 C719.3,185.48 717.28,186.3 715.25,187.13 C713.22,187.96 711.19,188.82 709.17,189.69 C707.14,190.57 705.11,191.46 703.09,192.36 C701.06,193.26 699.03,194.18 697.01,195.11 C694.98,196.03 692.95,196.97 690.93,197.91 C688.9,198.86 686.87,199.81 684.85,200.76 C682.82,201.71 680.79,202.67 678.77,203.62 C676.74,204.57 674.71,205.53 672.69,206.48 C670.66,207.42 668.63,208.37 666.61,209.31 C664.58,210.25 662.55,211.18 660.53,212.12 C658.5,213.05 656.47,213.99 654.45,214.93 C652.42,215.87 650.39,216.81 648.37,217.76 C646.34,218.71 644.31,219.67 642.28,220.64 C640.26,221.61 638.23,222.59 636.2,223.58 C634.18,224.58 632.15,225.59 630.12,226.62 C628.1,227.65 626.07,228.7 624.04,229.77 C622.02,230.84 619.99,231.93 617.96,233.05 C615.94,234.17 613.91,235.31 611.88,236.47 C609.86,237.64 607.83,238.83 605.8,240.05 C603.78,241.27 601.75,242.52 599.72,243.79 C597.7,245.06 595.67,246.37 593.64,247.69 C591.62,249 589.59,250.35 587.56,251.69 C585.54,253.04 583.51,254.41 581.48,255.77 C579.46,257.13 577.43,258.51 575.4,259.88 C573.37,261.24 571.35,262.61 569.32,263.97 C567.29,265.33 565.27,266.68 563.24,268.01 C561.21,269.34 559.19,270.66 557.16,271.96 C555.13,273.25 553.11,274.53 551.08,275.77 C549.05,277.01 546.01,278.79 545,279.4" fill="none" stroke="#fde725" stroke-width="5.6" stroke-linejoin="round" stroke-linecap="round"/>
<path d="M143.5,615.7 C147.92,610.78 160.58,596.22 170,586.2 C179.42,576.18 185,569.38 200,555.6 C215,541.83 240,520.95 260,503.55 C280,486.15 300,468.53 320,451.2 C340,433.88 360,416.03 380,399.6 C400,383.17 420,367.52 440,352.6 C460,337.68 483.97,321.2 500,310.1 C516.03,299 528.7,291.12 536.2,286 C543.7,280.88 543.53,280.5 545,279.4" fill="none" stroke="#fde725" stroke-width="5.6" stroke-linejoin="round" stroke-linecap="round"/>
<path d="M143.5,615.7 C147.92,611.62 160.58,599.95 170,591.2 C179.42,582.45 185,575.46 200,563.2 C215,550.94 240,533.35 260,517.65 C280,501.95 300,485.98 320,469 C340,452.02 360,432.8 380,415.8 C400,398.8 420,383.42 440,367 C460,350.58 483.97,330.43 500,317.3 C516.03,304.17 528.7,294.52 536.2,288.2 C543.7,281.88 543.53,280.87 545,279.4" fill="none" stroke="#fde725" stroke-width="5.6" stroke-linejoin="round" stroke-linecap="round"/>
<path d="M143.3,2.2H946.8V649.3H143.3Z" fill="none" stroke="#000" stroke-width="2.5"/>
<circle cx="545.1" cy="280.1" r="5.8" fill="none" stroke="#481a6c" stroke-width="2.3"/>
<circle cx="377.6" cy="323.6" r="7.2" fill="none" stroke="#31688e" stroke-width="2.5"/>
<circle cx="316.2" cy="368.6" r="7.3" fill="none" stroke="#23918b" stroke-width="2.6"/>
<circle cx="143.3" cy="615" r="7.4" fill="none" stroke="#fde725" stroke-width="2.4"/>
<g fill="none" stroke="#000" stroke-width="2.4" stroke-linecap="round" stroke-linejoin="miter">
<path d="M230.1,343.7 L255.1,347.2 L241.4,367.5"/>
<path d="M267.6,339.5 L255.7,359.1 L281.2,361.9"/>
<path d="M228.9,393.6 L252.1,388.9 L247.9,412"/>
<path d="M264,375 L257.5,398.4 L283,393.6"/>
<path d="M362.4,395.8 L355.8,419.5 L380.9,414.9"/>
<path d="M347.2,436.7 L369.6,428.1 L367.6,451.9"/>
</g>
<path d="M668.2,149.6L684,137.5" stroke="#000" stroke-width="3.3" stroke-linecap="round" fill="none"/>
<path d="M699.6,124.6L677.8,128.9L690,144Z" fill="#000" stroke="#000" stroke-width="2.2" stroke-linejoin="round"/>
<path d="M829.5,268.9L797,273.2" stroke="#000" stroke-width="3.3" stroke-linecap="round" fill="none"/>
<path d="M778.7,274.4L797,262.9L798.2,282Z" fill="#000" stroke="#000" stroke-width="2.2" stroke-linejoin="round"/>
<path d="M276.3,288.5L308,285" stroke="#000" stroke-width="3.3" stroke-linecap="round" fill="none"/>
<path d="M324.6,283.8L305.5,276.3L306.5,294.6Z" fill="#000" stroke="#000" stroke-width="2.2" stroke-linejoin="round"/>
<path d="M330.2,308.6L300,312" stroke="#000" stroke-width="3.3" stroke-linecap="round" fill="none"/>
<path d="M282.8,313.6L300.7,302.3L303.1,321.2Z" fill="#000" stroke="#000" stroke-width="2.2" stroke-linejoin="round"/>
<g transform="translate(661,138) scale(1,1.04) translate(-661,-138)"><text x="661" y="138" font-size="37">1</text></g>
<g transform="translate(804.5,308.3) scale(1,1.04) translate(-804.5,-308.3)"><text x="804.5" y="308.3" font-size="37">2</text></g>
<rect x="596.3" y="355.5" width="335.1" height="277" fill="#fff" stroke="#000" stroke-width="1.4"/>
<g transform="translate(683.8,394.1) scale(1,1.04) translate(-683.8,-394.1)"><text x="683.8" y="394.1"><tspan font-size="33.3">TE 1.00·10</tspan><tspan font-size="23.5" dy="-13.6">-14</tspan><tspan font-size="33.3" dy="13.6" dx="4.3">m</tspan><tspan font-size="23.5" dy="-13.6">2</tspan></text></g>
<path d="M601,428.26H674.6" stroke="#481a6c" stroke-width="5.7" stroke-linecap="round"/>
<g transform="translate(683.8,439.46) scale(1,1.04) translate(-683.8,-439.46)"><text x="683.8" y="439.46"><tspan font-size="33.3">BE 1.00·10</tspan><tspan font-size="23.5" dy="-13.6">-14</tspan><tspan font-size="33.3" dy="13.6" dx="4.3">m</tspan><tspan font-size="23.5" dy="-13.6">2</tspan></text></g>
<path d="M601,473.62H674.6" stroke="#31688e" stroke-width="5.7" stroke-linecap="round"/>
<g transform="translate(683.8,484.82) scale(1,1.04) translate(-683.8,-484.82)"><text x="683.8" y="484.82"><tspan font-size="33.3">BE 4.00·10</tspan><tspan font-size="23.5" dy="-13.6">-14</tspan><tspan font-size="33.3" dy="13.6" dx="4.3">m</tspan><tspan font-size="23.5" dy="-13.6">2</tspan></text></g>
<path d="M601,518.98H674.6" stroke="#22a884" stroke-width="5.7" stroke-linecap="round"/>
<g transform="translate(683.8,530.18) scale(1,1.04) translate(-683.8,-530.18)"><text x="683.8" y="530.18"><tspan font-size="33.3">BE 6.25·10</tspan><tspan font-size="23.5" dy="-13.6">-14</tspan><tspan font-size="33.3" dy="13.6" dx="4.3">m</tspan><tspan font-size="23.5" dy="-13.6">2</tspan></text></g>
<path d="M601,564.34H674.6" stroke="#a5db36" stroke-width="5.7" stroke-linecap="round"/>
<g transform="translate(683.8,575.54) scale(1,1.04) translate(-683.8,-575.54)"><text x="683.8" y="575.54"><tspan font-size="33.3">BE 2.50·10</tspan><tspan font-size="23.5" dy="-13.6">-13</tspan><tspan font-size="33.3" dy="13.6" dx="4.3">m</tspan><tspan font-size="23.5" dy="-13.6">2</tspan></text></g>
<path d="M601,609.7H674.6" stroke="#fde725" stroke-width="5.7" stroke-linecap="round"/>
<g transform="translate(683.8,620.9) scale(1,1.04) translate(-683.8,-620.9)"><text x="683.8" y="620.9"><tspan font-size="33.3">BE 1.00·10</tspan><tspan font-size="23.5" dy="-13.6">-12</tspan><tspan font-size="33.3" dy="13.6" dx="4.3">m</tspan><tspan font-size="23.5" dy="-13.6">2</tspan></text></g>
<defs><clipPath id="cb"><rect x="1190.5" y="93" width="780" height="67.7"/></clipPath></defs>
<g clip-path="url(#cb)">
<rect x="1190.5" y="93" width="780" height="67.7" fill="#ff0000"/>
<path d="M1407.0,92.0 1753.5,92.0 1752.9,100.0 1750.7,108.0 1747.1,115.5 1742.0,122.5 1736.0,128.6 1728.5,134.3 1720.0,139.2 1709.5,143.9 1699.5,147.3 1687.5,150.3 1674.5,152.8 1659.5,154.8 1643.5,156.3 1626.0,157.3 1580.0,158.2 1534.0,157.3 1516.5,156.3 1500.5,154.8 1485.5,152.8 1472.5,150.3 1460.5,147.3 1450.5,143.9 1440.0,139.2 1431.5,134.3 1424.0,128.6 1418.0,122.5 1412.9,115.5 1409.3,108.0 1407.1,100.0 1406.5,92.0Z" fill="#ff2a00"/>
<path d="M1436.5,92.0 1723.7,92.0 1723.3,99.0 1721.6,106.0 1718.7,113.0 1714.2,120.0 1708.9,126.0 1702.4,131.5 1694.5,136.7 1686.5,140.7 1676.5,144.7 1666.5,147.7 1655.5,150.2 1643.5,152.2 1630.5,153.8 1616.0,154.9 1598.5,155.7 1580.0,155.9 1561.5,155.7 1544.0,154.9 1529.5,153.8 1516.5,152.2 1504.5,150.2 1493.5,147.7 1483.5,144.7 1473.5,140.7 1465.5,136.7 1457.6,131.5 1451.1,126.0 1445.8,120.0 1441.3,113.0 1438.4,106.0 1436.7,99.0 1436.3,92.0Z" fill="#ff5500"/>
<path d="M1455.0,92.0 1705.2,92.0 1704.7,99.0 1703.3,105.5 1700.4,112.5 1696.6,118.5 1692.1,124.0 1686.5,129.1 1680.0,133.8 1672.0,138.3 1663.0,142.2 1654.0,145.3 1644.5,147.7 1634.0,149.7 1622.5,151.3 1607.5,152.7 1580.0,153.5 1552.5,152.7 1537.5,151.3 1526.0,149.7 1515.5,147.7 1506.0,145.3 1497.0,142.2 1488.0,138.3 1480.0,133.8 1473.5,129.1 1467.9,124.0 1463.4,118.5 1459.6,112.5 1456.7,105.5 1455.3,99.0 1454.8,92.0Z" fill="#ff8000"/>
<path d="M1467.5,92.0 1692.7,92.0 1692.3,98.5 1691.0,104.7 1688.6,111.0 1685.1,117.0 1680.7,122.5 1675.5,127.5 1669.5,132.1 1662.0,136.5 1654.5,140.0 1646.2,143.0 1637.2,145.5 1627.8,147.5 1618.0,149.0 1605.0,150.3 1580.0,151.3 1555.0,150.3 1542.0,149.0 1532.2,147.5 1522.8,145.5 1513.8,143.0 1505.5,140.0 1498.0,136.5 1490.5,132.1 1484.5,127.5 1479.3,122.5 1474.9,117.0 1471.4,111.0 1469.0,104.7 1467.7,98.5 1467.3,92.0Z" fill="#ffaa00"/>
<path d="M1478.5,92.0 1682.0,92.0 1681.6,98.5 1680.3,104.5 1678.2,110.0 1675.1,115.5 1671.4,120.5 1666.5,125.5 1660.9,130.0 1654.5,134.0 1647.0,137.8 1639.5,140.6 1631.0,143.2 1622.5,145.1 1613.0,146.7 1602.5,147.8 1580.0,148.8 1557.5,147.8 1547.0,146.7 1537.5,145.1 1529.0,143.2 1520.5,140.6 1513.0,137.8 1505.5,134.0 1499.1,130.0 1493.5,125.5 1488.6,120.5 1484.9,115.5 1481.8,110.0 1479.7,104.5 1478.4,98.5 1478.0,92.0Z" fill="#ffd400"/>
<path d="M1487.0,92.0 1673.1,92.0 1672.9,97.5 1671.6,104.0 1669.5,109.5 1667.0,114.1 1663.5,119.0 1658.7,124.0 1653.9,128.0 1647.8,132.0 1641.0,135.5 1634.9,138.0 1627.2,140.5 1619.1,142.5 1607.5,144.5 1598.5,145.5 1580.0,146.2 1561.5,145.5 1552.5,144.5 1540.9,142.5 1532.8,140.5 1525.1,138.0 1519.0,135.5 1512.2,132.0 1506.1,128.0 1501.3,124.0 1496.5,119.0 1493.0,114.1 1490.5,109.5 1488.4,104.0 1487.1,97.5 1486.9,92.0Z" fill="#ffff00"/>
<path d="M1496.0,92.0 1664.2,92.0 1663.9,97.5 1662.8,103.0 1661.0,108.0 1658.4,113.0 1655.2,117.5 1651.0,122.0 1646.3,126.0 1641.1,129.5 1635.5,132.6 1629.0,135.4 1622.0,137.7 1614.5,139.6 1598.0,142.2 1580.0,143.1 1562.0,142.2 1545.5,139.6 1538.0,137.7 1531.0,135.4 1524.5,132.6 1518.9,129.5 1513.7,126.0 1509.0,122.0 1504.8,117.5 1501.6,113.0 1499.0,108.0 1497.2,103.0 1496.1,97.5 1495.8,92.0Z" fill="#ccff00"/>
<path d="M1503.5,92.0 1656.6,92.0 1656.3,97.0 1655.4,102.0 1653.6,107.0 1651.3,111.5 1648.2,116.0 1644.5,120.0 1640.5,123.5 1635.5,127.0 1630.1,130.0 1624.5,132.5 1618.0,134.7 1611.5,136.5 1596.5,139.0 1580.0,139.9 1563.5,139.0 1548.5,136.5 1542.0,134.7 1535.5,132.5 1529.9,130.0 1524.5,127.0 1519.5,123.5 1515.5,120.0 1511.8,116.0 1508.7,111.5 1506.4,107.0 1504.6,102.0 1503.7,97.0 1503.4,92.0Z" fill="#99ff00"/>
<path d="M1510.5,92.0 1650.0,92.0 1649.7,97.0 1648.8,101.5 1647.3,106.0 1645.2,110.0 1642.5,114.0 1639.0,117.9 1635.0,121.4 1630.6,124.5 1626.0,127.1 1620.5,129.6 1608.5,133.4 1595.0,135.8 1580.0,136.6 1565.0,135.8 1551.5,133.4 1539.5,129.6 1534.0,127.1 1529.4,124.5 1525.0,121.4 1521.0,117.9 1517.5,114.0 1514.8,110.0 1512.7,106.0 1511.2,101.5 1510.3,97.0 1510.0,92.0Z" fill="#66ff00"/>
<path d="M1516.0,92.0 1644.2,92.0 1644.0,96.5 1643.3,100.5 1641.9,104.5 1639.9,108.5 1637.2,112.5 1634.0,116.0 1630.5,119.1 1626.5,121.9 1617.0,126.8 1606.0,130.4 1593.5,132.6 1580.0,133.3 1566.5,132.6 1554.0,130.4 1543.0,126.8 1533.5,121.9 1529.5,119.1 1526.0,116.0 1522.8,112.5 1520.1,108.5 1518.1,104.5 1516.7,100.5 1516.0,96.5 1515.8,92.0Z" fill="#33ff00"/>
<path d="M1521.0,92.0 1639.2,92.0 1639.1,96.0 1638.4,99.5 1637.1,103.5 1635.3,107.0 1632.9,110.5 1630.3,113.5 1626.9,116.5 1623.0,119.3 1614.5,123.8 1604.0,127.2 1592.5,129.3 1580.0,130.1 1567.5,129.3 1556.0,127.2 1545.5,123.8 1537.0,119.3 1533.1,116.5 1529.7,113.5 1527.1,110.5 1524.7,107.0 1522.9,103.5 1521.6,99.5 1520.9,96.0 1520.8,92.0Z" fill="#00ff00"/>
<path d="M1525.5,92.0 1634.9,92.0 1634.7,95.5 1634.1,99.0 1631.3,105.5 1626.5,111.5 1619.6,117.0 1611.5,121.1 1602.0,124.2 1591.5,126.1 1580.0,126.8 1568.5,126.1 1558.0,124.2 1548.5,121.1 1540.4,117.0 1533.5,111.5 1528.7,105.5 1525.9,99.0 1525.3,95.5 1525.1,92.0Z" fill="#00ff2a"/>
<path d="M1529.0,92.0 1631.0,92.0 1630.9,95.5 1630.2,98.5 1627.5,104.4 1623.0,109.8 1616.8,114.5 1609.5,118.2 1600.5,121.2 1590.5,123.0 1580.0,123.6 1569.5,123.0 1559.5,121.2 1550.5,118.2 1543.2,114.5 1537.0,109.8 1532.5,104.4 1529.8,98.5 1529.1,95.5 1529.0,92.0Z" fill="#00ff55"/>
<path d="M1532.5,92.0 1627.7,92.0 1627.1,97.5 1624.4,103.0 1620.0,107.9 1614.0,112.3 1607.0,115.7 1598.5,118.3 1589.5,119.9 1580.0,120.4 1570.5,119.9 1561.5,118.3 1553.0,115.7 1546.0,112.3 1540.0,107.9 1535.6,103.0 1532.9,97.5 1532.3,92.0Z" fill="#00ff80"/>
<path d="M1535.5,92.0 1624.9,92.0 1624.8,94.5 1624.2,97.0 1621.7,101.5 1617.5,106.0 1611.6,110.0 1605.0,113.1 1597.0,115.5 1588.5,116.9 1580.0,117.4 1571.5,116.9 1563.0,115.5 1555.0,113.1 1548.4,110.0 1542.5,106.0 1538.3,101.5 1535.8,97.0 1535.2,94.5 1535.1,92.0Z" fill="#00ffaa"/>
<path d="M1537.5,92.0 1622.6,92.0 1621.9,96.0 1619.5,100.0 1615.0,104.3 1609.5,107.8 1603.0,110.6 1596.0,112.6 1588.5,113.9 1580.0,114.3 1571.5,113.9 1564.0,112.6 1557.0,110.6 1550.5,107.8 1545.0,104.3 1540.5,100.0 1538.1,96.0 1537.4,92.0Z" fill="#00ffd4"/>
<path d="M1539.5,92.0 1620.9,92.0 1620.8,93.5 1620.0,95.2 1617.0,99.0 1612.5,102.7 1607.0,105.8 1601.0,108.2 1594.5,109.9 1587.5,111.0 1580.0,111.4 1572.5,111.0 1565.5,109.9 1559.0,108.2 1553.0,105.8 1547.5,102.7 1543.0,99.0 1540.0,95.2 1539.2,93.5 1539.1,92.0Z" fill="#00ffff"/>
<path d="M1541.0,92.0 1619.5,92.0 1619.5,93.0 1619.0,93.6 1614.5,98.1 1610.0,101.2 1604.5,104.0 1599.0,105.9 1593.0,107.4 1586.5,108.3 1580.0,108.6 1573.5,108.3 1567.0,107.4 1561.0,105.9 1555.5,104.0 1550.0,101.2 1545.5,98.1 1541.0,93.6 1540.5,93.0 1540.5,92.0Z" fill="#00d4ff"/>
<path d="M1543.0,92.0 1617.3,92.0 1617.3,93.0 1612.5,96.8 1607.5,99.8 1602.5,101.9 1592.0,104.8 1586.0,105.5 1580.0,105.8 1574.0,105.5 1568.0,104.8 1557.5,101.9 1552.5,99.8 1547.5,96.8 1542.7,93.0 1542.7,92.0Z" fill="#00aaff"/>
<path d="M1546.0,92.0 1614.4,92.0 1614.4,93.0 1610.0,95.8 1605.5,98.0 1600.5,99.9 1590.5,102.3 1580.0,103.1 1569.5,102.3 1559.5,99.9 1554.5,98.0 1550.0,95.8 1545.6,93.0 1545.6,92.0Z" fill="#0080ff"/>
<path d="M1549.5,92.0 1610.6,92.0 1610.6,93.0 1608.0,94.4 1598.0,98.1 1589.0,99.9 1580.0,100.5 1571.0,99.9 1562.0,98.1 1552.0,94.4 1549.4,93.0 1549.4,92.0Z" fill="#0055ff"/>
<path d="M1554.5,92.0 1605.7,92.0 1605.7,93.0 1595.5,96.2 1588.0,97.5 1580.0,97.9 1572.0,97.5 1564.5,96.2 1554.3,93.0 1554.3,92.0Z" fill="#002bff"/>
<path d="M1561.5,92.0 1598.6,92.0 1598.6,93.0 1593.0,94.3 1586.5,95.1 1580.0,95.4 1573.5,95.1 1567.0,94.3 1561.4,93.0 1561.4,92.0Z" fill="#0000ff"/>
<g fill="none" stroke="#3a3a3a" stroke-width="1.3">
<path d="M1486.9,92.0 1487.1,97.5 1488.4,104.0 1490.5,109.5 1493.0,114.1 1496.5,119.0 1501.3,124.0 1506.1,128.0 1512.2,132.0 1519.0,135.5 1525.1,138.0 1532.8,140.5 1540.9,142.5 1552.5,144.5 1561.5,145.5 1580.0,146.2 1598.5,145.5 1607.5,144.5 1619.1,142.5 1627.2,140.5 1634.9,138.0 1641.0,135.5 1647.8,132.0 1653.9,128.0 1658.7,124.0 1663.5,119.0 1667.0,114.1 1669.5,109.5 1671.6,104.0 1672.9,97.5 1673.1,92.0"/>
<path d="M1525.1,92.0 1525.3,95.5 1525.9,99.0 1528.7,105.5 1533.5,111.5 1540.4,117.0 1548.5,121.1 1558.0,124.2 1568.5,126.1 1580.0,126.8 1591.5,126.1 1602.0,124.2 1611.5,121.1 1619.6,117.0 1626.5,111.5 1631.3,105.5 1634.1,99.0 1634.7,95.5 1634.9,92.0"/>
<path d="M1540.5,92.0 1540.5,93.0 1541.0,93.6 1545.5,98.1 1550.0,101.2 1555.5,104.0 1561.0,105.9 1567.0,107.4 1573.5,108.3 1580.0,108.6 1586.5,108.3 1593.0,107.4 1599.0,105.9 1604.5,104.0 1610.0,101.2 1614.5,98.1 1619.0,93.6 1619.5,93.0 1619.5,92.0"/>
</g></g>
<rect x="1188.6" y="161.9" width="780.8" height="10.4" fill="#c0c0c0" stroke="#000" stroke-width="1.5"/>
<rect x="1545" y="81" width="68.8" height="11" fill="#c0c0c0" stroke="#000" stroke-width="1.5"/>
<rect x="1190.5" y="93" width="780" height="67.7" fill="none" stroke="#000" stroke-width="2.9"/>
<g stroke="#000" stroke-width="2.9" fill="none">
<path d="M1234,160.7v-6"/>
<path d="M1303.2,160.7v-12.5"/>
<path d="M1372.4,160.7v-6"/>
<path d="M1441.6,160.7v-12.5"/>
<path d="M1510.8,160.7v-6"/>
<path d="M1580,160.7v-12.5"/>
<path d="M1649.2,160.7v-6"/>
<path d="M1718.4,160.7v-12.5"/>
<path d="M1787.6,160.7v-6"/>
<path d="M1856.8,160.7v-12.5"/>
<path d="M1926,160.7v-6"/>
<path d="M1190.5,127.6h13M1190.5,93h13"/>
</g>
<g transform="translate(1303.2,213.9) scale(1,1.04) translate(-1303.2,-213.9)"><text x="1303.2" y="213.9" text-anchor="middle"><tspan font-size="31.5">-4.0·10</tspan><tspan font-size="21.5" dy="-13.2">-7</tspan></text></g>
<g transform="translate(1441.6,213.9) scale(1,1.04) translate(-1441.6,-213.9)"><text x="1441.6" y="213.9" text-anchor="middle"><tspan font-size="31.5">-2.0·10</tspan><tspan font-size="21.5" dy="-13.2">-7</tspan></text></g>
<g transform="translate(1718.4,213.9) scale(1,1.04) translate(-1718.4,-213.9)"><text x="1718.4" y="213.9" text-anchor="middle"><tspan font-size="31.5">2.0·10</tspan><tspan font-size="21.5" dy="-13.2">-7</tspan></text></g>
<g transform="translate(1856.8,213.9) scale(1,1.04) translate(-1856.8,-213.9)"><text x="1856.8" y="213.9" text-anchor="middle"><tspan font-size="31.5">4.0·10</tspan><tspan font-size="21.5" dy="-13.2">-7</tspan></text></g>
<g transform="translate(1580.3,209.3) scale(1,1.04) translate(-1580.3,-209.3)"><text x="1580.3" y="209.3" font-size="31.5" text-anchor="middle">0.0</text></g>
<g transform="translate(1175,104.7) scale(1,1.04) translate(-1175,-104.7)"><text x="1175" y="104.7" text-anchor="end"><tspan font-size="31.5">1.0·10</tspan><tspan font-size="21.5" dy="-13.4">-7</tspan></text></g>
<g transform="translate(1175,139.3) scale(1,1.04) translate(-1175,-139.3)"><text x="1175" y="139.3" text-anchor="end"><tspan font-size="31.5">5.0·10</tspan><tspan font-size="21.5" dy="-13.4">-8</tspan></text></g>
<g transform="translate(1173.4,171.2) scale(1,1.04) translate(-1173.4,-171.2)"><text x="1173.4" y="171.2" font-size="31.5" text-anchor="end">0.0</text></g>
<text font-size="39.5" text-anchor="middle" transform="translate(1582.2,250.7)"><tspan font-style="italic">x</tspan> (m)</text>
<text font-size="39.5" text-anchor="middle" transform="translate(1050,125.6) rotate(-90)"><tspan font-style="italic">y</tspan> (m)</text>
<text x="1018.6" y="59.4" font-size="45" font-weight="bold">b</text>
<rect x="1050.7" y="319.5" width="35.7" height="25" fill="#808080"/>
<rect x="1086.4" y="319.5" width="34.95" height="25" fill="#ff0000"/>
<rect x="1121.05" y="319.5" width="34.95" height="25" fill="#ff2a00"/>
<rect x="1155.69" y="319.5" width="34.95" height="25" fill="#ff5500"/>
<rect x="1190.34" y="319.5" width="34.95" height="25" fill="#ff8000"/>
<rect x="1224.98" y="319.5" width="34.95" height="25" fill="#ffaa00"/>
<rect x="1259.63" y="319.5" width="34.95" height="25" fill="#ffd400"/>
<rect x="1294.28" y="319.5" width="34.95" height="25" fill="#ffff00"/>
<rect x="1328.92" y="319.5" width="34.95" height="25" fill="#ccff00"/>
<rect x="1363.57" y="319.5" width="34.95" height="25" fill="#99ff00"/>
<rect x="1398.21" y="319.5" width="34.95" height="25" fill="#66ff00"/>
<rect x="1432.86" y="319.5" width="34.95" height="25" fill="#33ff00"/>
<rect x="1467.5" y="319.5" width="34.95" height="25" fill="#00ff00"/>
<rect x="1502.15" y="319.5" width="34.95" height="25" fill="#00ff2a"/>
<rect x="1536.8" y="319.5" width="34.95" height="25" fill="#00ff55"/>
<rect x="1571.44" y="319.5" width="34.95" height="25" fill="#00ff80"/>
<rect x="1606.09" y="319.5" width="34.95" height="25" fill="#00ffaa"/>
<rect x="1640.73" y="319.5" width="34.95" height="25" fill="#00ffd4"/>
<rect x="1675.38" y="319.5" width="34.95" height="25" fill="#00ffff"/>
<rect x="1710.03" y="319.5" width="34.95" height="25" fill="#00d4ff"/>
<rect x="1744.67" y="319.5" width="34.95" height="25" fill="#00aaff"/>
<rect x="1779.32" y="319.5" width="34.95" height="25" fill="#0080ff"/>
<rect x="1813.96" y="319.5" width="34.95" height="25" fill="#0055ff"/>
<rect x="1848.61" y="319.5" width="34.95" height="25" fill="#002bff"/>
<rect x="1883.25" y="319.5" width="34.95" height="25" fill="#0000ff"/>
<rect x="1917.9" y="319.5" width="35.5" height="25" fill="#000"/>
<rect x="1050.7" y="319.5" width="902.7" height="25" fill="none" stroke="#000" stroke-width="2.4"/>
<g stroke="#000" stroke-width="2.4">
<path d="M1086.4,344.5v-8"/>
<path d="M1294.28,344.5v-8"/>
<path d="M1502.15,344.5v-8"/>
<path d="M1710.03,344.5v-8"/>
<path d="M1917.9,344.5v-8"/>
</g>
<g transform="translate(1086.4,371.2) scale(1,1.04) translate(-1086.4,-371.2)"><text x="1086.4" y="371.2" font-size="24.8" text-anchor="middle">0.00</text></g>
<g transform="translate(1294.28,371.2) scale(1,1.04) translate(-1294.28,-371.2)"><text x="1294.28" y="371.2" font-size="24.8" text-anchor="middle">-0.25</text></g>
<g transform="translate(1502.15,371.2) scale(1,1.04) translate(-1502.15,-371.2)"><text x="1502.15" y="371.2" font-size="24.8" text-anchor="middle">-0.50</text></g>
<g transform="translate(1710.03,371.2) scale(1,1.04) translate(-1710.03,-371.2)"><text x="1710.03" y="371.2" font-size="24.8" text-anchor="middle">-0.75</text></g>
<g transform="translate(1917.9,371.2) scale(1,1.04) translate(-1917.9,-371.2)"><text x="1917.9" y="371.2" font-size="24.8" text-anchor="middle">-1.00</text></g>
<text font-size="32.5"><tspan x="1386" y="301" font-style="italic" font-size="31">η</tspan><tspan x="1403.2" y="309.8" font-size="17.3">O</tspan><tspan x="1421" y="301.8" font-size="11">2-</tspan><tspan x="1442.6" y="301">(normalised)</tspan></text>
<path d="M1178.2,514.98 L1180.2,514.99 L1182.2,514.99 L1184.2,514.99 L1186.2,514.99 L1188.2,515 L1190.2,515 L1192.2,515 L1194.2,515.01 L1196.2,515.01 L1198.2,515.02 L1200.2,515.02 L1202.2,515.02 L1204.2,515.03 L1206.2,515.03 L1208.2,515.04 L1210.2,515.04 L1212.2,515.05 L1214.2,515.05 L1216.2,515.06 L1218.2,515.06 L1220.2,515.07 L1222.2,515.08 L1224.2,515.08 L1226.2,515.09 L1228.2,515.1 L1230.2,515.1 L1232.2,515.11 L1234.2,515.12 L1236.2,515.13 L1238.2,515.13 L1240.2,515.14 L1242.2,515.15 L1244.2,515.16 L1246.2,515.17 L1248.2,515.18 L1250.2,515.19 L1252.2,515.2 L1254.2,515.22 L1256.2,515.23 L1258.2,515.24 L1260.2,515.25 L1262.2,515.27 L1264.2,515.28 L1266.2,515.3 L1268.2,515.31 L1270.2,515.33 L1272.2,515.35 L1274.2,515.36 L1276.2,515.38 L1278.2,515.4 L1280.2,515.42 L1282.2,515.44 L1284.2,515.47 L1286.2,515.49 L1288.2,515.52 L1290.2,515.54 L1292.2,515.57 L1294.2,515.6 L1296.2,515.62 L1298.2,515.65 L1300.2,515.69 L1302.2,515.72 L1304.2,515.76 L1306.2,515.79 L1308.2,515.83 L1310.2,515.87 L1312.2,515.91 L1314.2,515.96 L1316.2,516 L1318.2,516.05 L1320.2,516.1 L1322.2,516.15 L1324.2,516.21 L1326.2,516.27 L1328.2,516.33 L1330.2,516.39 L1332.2,516.46 L1334.2,516.53 L1336.2,516.6 L1338.2,516.68 L1340.2,516.76 L1342.2,516.85 L1344.2,516.94 L1346.2,517.03 L1348.2,517.13 L1350.2,517.23 L1352.2,517.34 L1354.2,517.45 L1356.2,517.57 L1358.2,517.7 L1360.2,517.83 L1362.2,517.97 L1364.2,518.11 L1366.2,518.26 L1368.2,518.42 L1370.2,518.59 L1372.2,518.76 L1374.2,518.95 L1376.2,519.14 L1378.2,519.35 L1380.2,519.56 L1382.2,519.78 L1384.2,520.02 L1386.2,520.27 L1388.2,520.53 L1390.2,520.8 L1392.2,521.08 L1394.2,521.38 L1396.2,521.7 L1398.2,522.03 L1400.2,522.38 L1402.2,522.74 L1404.2,523.12 L1406.2,523.52 L1408.2,523.94 L1410.2,524.38 L1412.2,524.85 L1414.2,525.33 L1416.2,525.84 L1418.2,526.37 L1420.2,526.93 L1422.2,527.51 L1424.2,528.12 L1426.2,528.76 L1428.2,529.43 L1430.2,530.12 L1432.2,530.85 L1434.2,531.62 L1436.2,532.42 L1438.2,533.25 L1440.2,534.12 L1442.2,535.02 L1444.2,535.97 L1446.2,536.95 L1448.2,537.98 L1450.2,539.04 L1452.2,540.15 L1454.2,541.31 L1456.2,542.5 L1458.2,543.75 L1460.2,545.04 L1462.2,546.37 L1464.2,547.75 L1466.2,549.18 L1468.2,550.66 L1470.2,552.19 L1472.2,553.76 L1474.2,555.38 L1476.2,557.05 L1478.2,558.77 L1480.2,560.53 L1482.2,562.34 L1484.2,564.19 L1486.2,566.09 L1488.2,568.02 L1490.2,569.99 L1492.2,572 L1494.2,574.05 L1496.2,576.12 L1498.2,578.23 L1500.2,580.36 L1502.2,582.51 L1504.2,584.68 L1506.2,586.86 L1508.2,589.05 L1510.2,591.24 L1512.2,593.43 L1514.2,595.62 L1516.2,597.8 L1518.2,599.96 L1520.2,602.1 L1522.2,604.21 L1524.2,606.29 L1526.2,608.33 L1528.2,610.32 L1530.2,612.27 L1532.2,614.16 L1534.2,615.98 L1536.2,617.74 L1538.2,619.43 L1540.2,621.04 L1542.2,622.58 L1544.2,624.02 L1546.2,625.38 L1548.2,626.64 L1550.2,627.81 L1552.2,628.88 L1554.2,629.85 L1556.2,630.72 L1558.2,631.49 L1560.2,632.15 L1562.2,632.72 L1564.2,633.18 L1566.2,633.55 L1568.2,633.82 L1570.2,634.01 L1572.2,634.11 L1574.2,634.14 L1576.2,634.11 L1578.2,634.02 L1580.2,633.85 L1582.2,633.58 L1584.2,633.22 L1586.2,632.77 L1588.2,632.22 L1590.2,631.56 L1592.2,630.8 L1594.2,629.94 L1596.2,628.98 L1598.2,627.92 L1600.2,626.76 L1602.2,625.51 L1604.2,624.16 L1606.2,622.72 L1608.2,621.2 L1610.2,619.6 L1612.2,617.92 L1614.2,616.16 L1616.2,614.34 L1618.2,612.46 L1620.2,610.52 L1622.2,608.53 L1624.2,606.5 L1626.2,604.42 L1628.2,602.31 L1630.2,600.18 L1632.2,598.02 L1634.2,595.84 L1636.2,593.65 L1638.2,591.46 L1640.2,589.27 L1642.2,587.08 L1644.2,584.89 L1646.2,582.72 L1648.2,580.57 L1650.2,578.44 L1652.2,576.33 L1654.2,574.26 L1656.2,572.21 L1658.2,570.19 L1660.2,568.22 L1662.2,566.28 L1664.2,564.38 L1666.2,562.52 L1668.2,560.71 L1670.2,558.94 L1672.2,557.22 L1674.2,555.55 L1676.2,553.92 L1678.2,552.34 L1680.2,550.81 L1682.2,549.33 L1684.2,547.89 L1686.2,546.51 L1688.2,545.17 L1690.2,543.87 L1692.2,542.63 L1694.2,541.42 L1696.2,540.27 L1698.2,539.15 L1700.2,538.08 L1702.2,537.05 L1704.2,536.06 L1706.2,535.12 L1708.2,534.21 L1710.2,533.33 L1712.2,532.5 L1714.2,531.7 L1716.2,530.93 L1718.2,530.2 L1720.2,529.49 L1722.2,528.82 L1724.2,528.18 L1726.2,527.57 L1728.2,526.98 L1730.2,526.42 L1732.2,525.89 L1734.2,525.38 L1736.2,524.89 L1738.2,524.43 L1740.2,523.99 L1742.2,523.56 L1744.2,523.16 L1746.2,522.78 L1748.2,522.41 L1750.2,522.06 L1752.2,521.73 L1754.2,521.41 L1756.2,521.11 L1758.2,520.83 L1760.2,520.55 L1762.2,520.29 L1764.2,520.04 L1766.2,519.81 L1768.2,519.58 L1770.2,519.37 L1772.2,519.16 L1774.2,518.97 L1776.2,518.78 L1778.2,518.61 L1780.2,518.44 L1782.2,518.28 L1784.2,518.12 L1786.2,517.98 L1788.2,517.84 L1790.2,517.71 L1792.2,517.58 L1794.2,517.46 L1796.2,517.35 L1798.2,517.24 L1800.2,517.14 L1802.2,517.04 L1804.2,516.95 L1806.2,516.86 L1808.2,516.77 L1810.2,516.69 L1812.2,516.61 L1814.2,516.54 L1816.2,516.47 L1818.2,516.4 L1820.2,516.34 L1822.2,516.27 L1824.2,516.22 L1826.2,516.16 L1828.2,516.11 L1830.2,516.06 L1832.2,516.01 L1834.2,515.96 L1836.2,515.92 L1838.2,515.87 L1840.2,515.83 L1842.2,515.8 L1844.2,515.76 L1846.2,515.72 L1848.2,515.69 L1850.2,515.66 L1852.2,515.63 L1854.2,515.6 L1856.2,515.57 L1858.2,515.54 L1860.2,515.52 L1862.2,515.49 L1864.2,515.47 L1866.2,515.45 L1868.2,515.43 L1870.2,515.41 L1872.2,515.39 L1874.2,515.37 L1876.2,515.35 L1878.2,515.33 L1880.2,515.31 L1882.2,515.3 L1884.2,515.28 L1886.2,515.27 L1888.2,515.26 L1890.2,515.24 L1892.2,515.23 L1894.2,515.22 L1896.2,515.2 L1898.2,515.19 L1900.2,515.18 L1902.2,515.17 L1904.2,515.16 L1906.2,515.15 L1908.2,515.14 L1910.2,515.13 L1912.2,515.13 L1914.2,515.12 L1916.2,515.11 L1918.2,515.1 L1920.2,515.1 L1922.2,515.09 L1924.2,515.08 L1926.2,515.08 L1928.2,515.07 L1930.2,515.06 L1932.2,515.06 L1934.2,515.05 L1936.2,515.05 L1938.2,515.04 L1940.2,515.04 L1942.2,515.03 L1944.2,515.03 L1946.2,515.02 L1948.2,515.02 L1950.2,515.02 L1952.2,515.01 L1954.2,515.01 L1956.2,515 L1958.2,515 L1960.2,515 L1962.2,514.99 L1964.2,514.99 L1966.2,514.99 L1968.2,514.99" fill="none" stroke="#000" stroke-width="3.6" stroke-linejoin="round"/>
<rect x="1178.2" y="503.3" width="791.8" height="143" fill="none" stroke="#000" stroke-width="2.3"/>
<g stroke="#000" stroke-width="2.3" fill="none">
<path d="M1222.8,646.3v-5"/>
<path d="M1293.1,646.3v-9.8"/>
<path d="M1363.4,646.3v-5"/>
<path d="M1433.7,646.3v-9.8"/>
<path d="M1504,646.3v-5"/>
<path d="M1574.3,646.3v-9.8"/>
<path d="M1644.6,646.3v-5"/>
<path d="M1714.9,646.3v-9.8"/>
<path d="M1785.2,646.3v-5"/>
<path d="M1855.5,646.3v-9.8"/>
<path d="M1925.8,646.3v-5"/>
<path d="M1178.2,514.9h10.6"/>
<path d="M1178.2,544.95h5.4"/>
<path d="M1178.2,575h10.6"/>
<path d="M1178.2,605.05h5.4"/>
<path d="M1178.2,635.1h10.6"/>
<path d="M1534.9,628V645.8M1613.7,628V645.8M1534.9,637.3H1613.7M1574.3,636V645.8" stroke-width="1.6"/>
</g>
<g transform="translate(1574.3,624.3) scale(1,1.04) translate(-1574.3,-624.3)"><text x="1574.3" y="624.3" font-size="22.8" text-anchor="middle">TE</text></g>
<g transform="translate(1166.7,524.6) scale(1,1.04) translate(-1166.7,-524.6)"><text x="1166.7" y="524.6" font-size="33.2" text-anchor="end">0.0</text></g>
<g transform="translate(1166.7,584.7) scale(1,1.04) translate(-1166.7,-584.7)"><text x="1166.7" y="584.7" font-size="33.2" text-anchor="end">-0.5</text></g>
<g transform="translate(1166.7,644.8) scale(1,1.04) translate(-1166.7,-644.8)"><text x="1166.7" y="644.8" font-size="33.2" text-anchor="end">-1.0</text></g>
<g transform="translate(1293.1,687.5) scale(1,1.04) translate(-1293.1,-687.5)"><text x="1293.1" y="687.5" text-anchor="middle"><tspan font-size="33.2">-4.0·10</tspan><tspan font-size="22.5" dy="-13.8">-7</tspan></text></g>
<g transform="translate(1433.7,687.5) scale(1,1.04) translate(-1433.7,-687.5)"><text x="1433.7" y="687.5" text-anchor="middle"><tspan font-size="33.2">-2.0·10</tspan><tspan font-size="22.5" dy="-13.8">-7</tspan></text></g>
<g transform="translate(1714.9,687.5) scale(1,1.04) translate(-1714.9,-687.5)"><text x="1714.9" y="687.5" text-anchor="middle"><tspan font-size="33.2">2.0·10</tspan><tspan font-size="22.5" dy="-13.8">-7</tspan></text></g>
<g transform="translate(1855.5,687.5) scale(1,1.04) translate(-1855.5,-687.5)"><text x="1855.5" y="687.5" text-anchor="middle"><tspan font-size="33.2">4.0·10</tspan><tspan font-size="22.5" dy="-13.8">-7</tspan></text></g>
<g transform="translate(1574.3,684) scale(1,1.04) translate(-1574.3,-684)"><text x="1574.3" y="684" font-size="33.2" text-anchor="middle">0.0</text></g>
<text font-size="36.4" text-anchor="middle" transform="translate(1573.6,729.5)"><tspan font-style="italic">x</tspan> (m)</text>
<text font-size="35.5" text-anchor="middle" transform="translate(1097.7,594.1) rotate(-90)">(normalised)</text>
<g transform="translate(1044.3,644.5) rotate(-90)"><text x="0" y="0" font-family="DejaVu Sans, sans-serif" font-size="32">∇</text><text x="24" y="9.3" font-size="24.5">y</text><text x="50.2" y="1" font-size="32.3" font-style="italic">η</text><text x="68" y="9.6" font-size="24">O</text><text x="85.9" y="0.2" font-size="17.8">2-</text></g>
<text x="1018.4" y="496.4" font-size="45" font-weight="bold">c</text>
</svg>
</body></html>
